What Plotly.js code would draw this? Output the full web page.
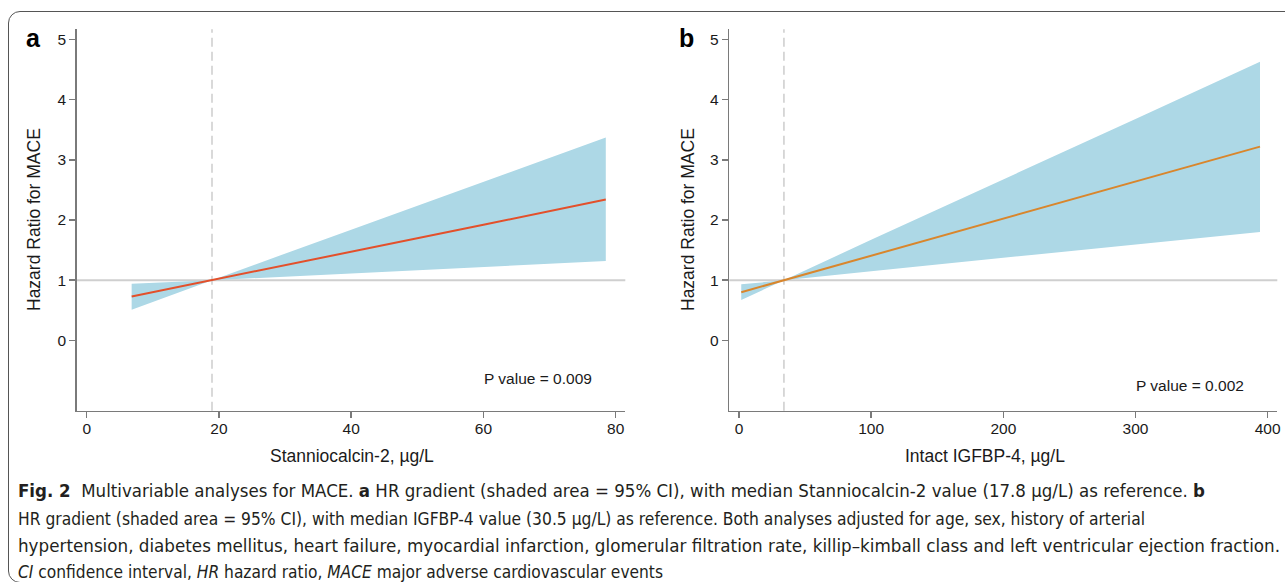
<!DOCTYPE html>
<html>
<head>
<meta charset="utf-8">
<script src="https://cdn.plot.ly/plotly-3.0.1.min.js"></script>
<style>
  html, body { margin: 0; padding: 0; background: #ffffff; }
  #wrap { position: relative; width: 1285px; height: 582px; overflow: hidden; background: #fff; }
  #chart { position: absolute; left: 0; top: 0; width: 1285px; height: 582px; }
  #frame { position: absolute; left: 8px; top: 11px; width: 1300px; height: 572px;
           border: 1.5px solid #555555; border-radius: 12px; pointer-events: none; box-sizing: border-box; }
  #caption { position: absolute; left: 18px; top: 0;
             font-family: "Liberation Sans Narrow", "DejaVu Sans Condensed", "Liberation Sans", sans-serif;
             font-size: 17px; color: #231f20; white-space: nowrap; }
  .cl { position: absolute; left: 0; white-space: nowrap; line-height: 20px; transform-origin: 0 50%; }
</style>
</head>
<body>
<div id="wrap">
  <div id="chart"></div>
  <div id="caption">
    <div class="cl" id="c1" style="top:481px"><b>Fig. 2</b>&nbsp; Multivariable analyses for MACE. <b>a</b> HR gradient (shaded area = 95% CI), with median Stanniocalcin-2 value (17.8 µg/L) as reference. <b>b</b></div>
    <div class="cl" id="c2" style="top:509px">HR gradient (shaded area = 95% CI), with median IGFBP-4 value (30.5 µg/L) as reference. Both analyses adjusted for age, sex, history of arterial</div>
    <div class="cl" id="c3" style="top:536px">hypertension, diabetes mellitus, heart failure, myocardial infarction, glomerular filtration rate, killip–kimball class and left ventricular ejection fraction.</div>
    <div class="cl" id="c4" style="top:562px"><i>CI</i> confidence interval, <i>HR</i> hazard ratio, <i>MACE</i> major adverse cardiovascular events</div>
  </div>
  <div id="frame"></div>
</div>
<script>
// ---- data ----
const xA = [6.8, 18.95, 40, 60, 78.5];
const hrA = [0.73, 1.0, 1.47, 1.92, 2.34];
const ciUpperA = [0.94, 1.0, 1.84, 2.63, 3.37];
const ciLowerA = [0.51, 1.0, 1.11, 1.22, 1.32];

const xB = [1.7, 34, 100, 200, 300, 394.2];
const hrB = [0.80, 1.0, 1.41, 2.02, 2.64, 3.22];
const ciUpperB = [0.93, 1.0, 1.67, 2.67, 3.68, 4.63];
const ciLowerB = [0.67, 1.0, 1.15, 1.37, 1.59, 1.80];

const refValues = [18.95, 34];
const refHR = 1;
const yTicks = [0, 1, 2, 3, 4, 5];
const xTicksA = [0, 20, 40, 60, 80];
const xTicksB = [0, 100, 200, 300, 400];
const pValueLabels = ['P value = 0.009', 'P value = 0.002'];
const xTitles = ['Stanniocalcin-2, µg/L', 'Intact IGFBP-4, µg/L'];
const yTitle = 'Hazard Ratio for MACE';
const panelLabels = ['a', 'b'];

// ---- styling ----
const W = 1285, H = 582;
const px = v => v / W;
const py = v => 1 - v / H;
const bandColor = '#add8e6';
const lineColors = ['#e3502b', '#d9862c'];
const axisColor = '#7a7a7a';
const font = 'Liberation Sans, Arial, sans-serif';
const textColor = '#1a1a1a';

function bandTraces(x, lo, hi, hr, color, xa, ya) {
  return [
    { x: x, y: lo, type: 'scatter', mode: 'lines', line: { width: 0, color: bandColor },
      xaxis: xa, yaxis: ya, hoverinfo: 'skip', showlegend: false },
    { x: x, y: hi, type: 'scatter', mode: 'lines', line: { width: 0, color: bandColor },
      fill: 'tonexty', fillcolor: bandColor, xaxis: xa, yaxis: ya, hoverinfo: 'skip', showlegend: false },
    { x: x, y: hr, type: 'scatter', mode: 'lines', line: { width: 2, color: color },
      xaxis: xa, yaxis: ya, showlegend: false }
  ];
}

const data = [].concat(
  bandTraces(xA, ciLowerA, ciUpperA, hrA, lineColors[0], 'x', 'y'),
  bandTraces(xB, ciLowerB, ciUpperB, hrB, lineColors[1], 'x2', 'y2')
);

const yDomain = [py(410.7), py(29.3)];
const commonAxis = {
  showline: true, linecolor: axisColor, linewidth: 1.5,
  ticks: 'outside', ticklen: 6, tickwidth: 1.5, tickcolor: axisColor,
  showgrid: false, zeroline: false, fixedrange: true,
  tickfont: { family: font, size: 15.5, color: textColor }
};
const xAxisExtra = { ticklabelstandoff: -3 };
const yAxisExtra = { ticklabelstandoff: 0 };

const layout = {
  width: W, height: H,
  margin: { l: 0, r: 0, t: 0, b: 0 },
  paper_bgcolor: 'rgba(0,0,0,0)', plot_bgcolor: 'rgba(0,0,0,0)',
  showlegend: false,
  xaxis: Object.assign({}, commonAxis, xAxisExtra, { domain: [px(76.7), px(625.3)], range: [-1.51, 81.45],
    tickvals: xTicksA, anchor: 'y' }),
  yaxis: Object.assign({}, commonAxis, yAxisExtra, { domain: yDomain, range: [-1.17, 5.17],
    tickvals: yTicks, anchor: 'x' }),
  xaxis2: Object.assign({}, commonAxis, xAxisExtra, { domain: [px(729.3), px(1277.3)], range: [-7.34, 407.3],
    tickvals: xTicksB, anchor: 'y2' }),
  yaxis2: Object.assign({}, commonAxis, yAxisExtra, { domain: yDomain, range: [-1.17, 5.17],
    tickvals: yTicks, anchor: 'x2' }),
  shapes: [
    { type: 'line', xref: 'x domain', yref: 'y', x0: 0, x1: 1, y0: refHR, y1: refHR,
      line: { color: '#cfcfcf', width: 2 }, layer: 'below' },
    { type: 'line', xref: 'x2 domain', yref: 'y2', x0: 0, x1: 1, y0: refHR, y1: refHR,
      line: { color: '#cfcfcf', width: 2 }, layer: 'below' },
    { type: 'line', xref: 'x', yref: 'y domain', x0: refValues[0], x1: refValues[0], y0: 0, y1: 1,
      line: { color: '#cccccc', width: 1.5, dash: '9px,5px' }, layer: 'below' },
    { type: 'line', xref: 'x2', yref: 'y2 domain', x0: refValues[1], x1: refValues[1], y0: 0, y1: 1,
      line: { color: '#cccccc', width: 1.5, dash: '9px,5px' }, layer: 'below' }
  ],
  annotations: [
    { text: '<b>' + panelLabels[0] + '</b>', xref: 'paper', yref: 'paper', x: px(33), y: py(38),
      showarrow: false, xanchor: 'center', yanchor: 'middle', font: { family: font, size: 25, color: '#000' } },
    { text: '<b>' + panelLabels[1] + '</b>', xref: 'paper', yref: 'paper', x: px(686), y: py(38),
      showarrow: false, xanchor: 'center', yanchor: 'middle', font: { family: font, size: 25, color: '#000' } },
    { text: yTitle, xref: 'paper', yref: 'paper', x: px(34), y: py(220), textangle: -90,
      showarrow: false, xanchor: 'center', yanchor: 'middle', font: { family: font, size: 17.5, color: textColor } },
    { text: yTitle, xref: 'paper', yref: 'paper', x: px(688), y: py(220), textangle: -90,
      showarrow: false, xanchor: 'center', yanchor: 'middle', font: { family: font, size: 17.5, color: textColor } },
    { text: xTitles[0], xref: 'paper', yref: 'paper', x: px(352), y: py(456),
      showarrow: false, xanchor: 'center', yanchor: 'middle', font: { family: font, size: 17.5, color: textColor } },
    { text: xTitles[1], xref: 'paper', yref: 'paper', x: px(985), y: py(456),
      showarrow: false, xanchor: 'center', yanchor: 'middle', font: { family: font, size: 17.5, color: textColor } },
    { text: pValueLabels[0], xref: 'paper', yref: 'paper', x: px(538), y: py(378),
      showarrow: false, xanchor: 'center', yanchor: 'middle', font: { family: font, size: 15.5, color: textColor } },
    { text: pValueLabels[1], xref: 'paper', yref: 'paper', x: px(1190), y: py(385),
      showarrow: false, xanchor: 'center', yanchor: 'middle', font: { family: font, size: 15.5, color: textColor } }
  ]
};

Plotly.newPlot('chart', data, layout, { staticPlot: true, displayModeBar: false });

// fit each caption line to the width it has in the reference
const captionTargets = { c1: 1187, c2: 1127, c3: 1262, c4: 645 };
function fitCaption() {
  Object.keys(captionTargets).forEach(function (id) {
    const el = document.getElementById(id);
    el.style.transform = 'none';
    const w0 = el.getBoundingClientRect().width;
    if (w0 > 0) el.style.transform = 'scaleX(' + (captionTargets[id] / w0) + ')';
  });
}
fitCaption();
if (document.fonts && document.fonts.ready) { document.fonts.ready.then(fitCaption); }
</script>
</body>
</html>
